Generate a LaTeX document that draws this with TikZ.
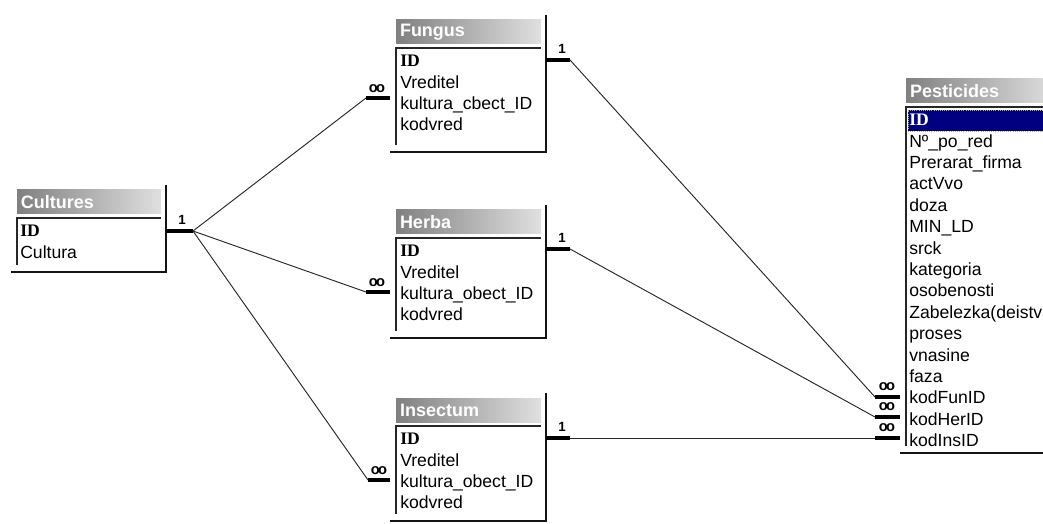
\documentclass[tikz,border=0pt]{standalone}
\usepackage{fontspec}
\setmainfont{Liberation Sans}
\newfontfamily\keyfont{Liberation Serif}
\usepackage{amsmath}
\usetikzlibrary{positioning, fit, calc}
\definecolor{cBarDark}{RGB}{128,128,128}
\definecolor{cBarLight}{RGB}{224,224,224}
\definecolor{cSel}{RGB}{0,0,128}
\definecolor{cEdge}{RGB}{20,20,20}
\tikzset{
	win/.style     ={rectangle, inner sep=0pt, fill=white},
	winedge/.style ={line width=1.5pt, draw=cEdge},
	titlebar/.style={rectangle, inner sep=0pt, left color=cBarDark, right color=cBarLight},
	wintitle/.style={anchor=west, inner sep=0pt, text=white, font=\bfseries\fontsize{13.5}{14}\selectfont},
	listedge/.style={line width=1.2pt, draw=black!85},
	fld/.style     ={anchor=west, inner sep=0pt, text height=10pt, text depth=3pt, font=\fontsize{13.2}{14}\selectfont},
	keyfld/.style  ={fld, font=\keyfont\bfseries\fontsize{13.2}{14}\selectfont},
	selrow/.style  ={rectangle, inner sep=0pt, fill=cSel, draw=yellow!70!black, densely dotted, line width=0.6pt},
	stub/.style    ={line width=2.6pt},
	link/.style    ={line width=0.7pt, draw=black!85},
	one/.style     ={inner sep=0pt, font=\bfseries\fontsize{10}{10}\selectfont},
	many/.style    ={inner sep=0pt, font=\bfseries\fontsize{11}{11}\selectfont},
}
\newcommand{\manysign}{o\kern-1.2pt o}

% table window: name, left, top, right, bottom, title
\newcommand{\tablewin}[6]{%
	\node[win, fit={(#2,#3) (#4,#5)}] (#1) {};
	\draw[winedge] (#1.north east) -- (#1.south east) -- (#1.south west);
	\node[titlebar, fit={(#2+6,#3+5) (#4-5,#3+29)}] (#1-bar) {};
	\node[wintitle] (#1-title) at ([xshift=3pt]#1-bar.west) {#6};
	\draw[listedge] (#2+6,#5-7) -- (#2+6,#3+33) -- (#4-5,#3+33);
}

\begin{document}
\begin{tikzpicture}[x=0.75pt, y=-0.75pt]
	\useasboundingbox (0,0) rectangle (1043,524);
	\clip (0,0) rectangle (1043,524);

	% tables
	\tablewin{cult}{11}{185}{166}{272}{Cultures}
	\node[keyfld] (cult-id) at (20,232) {ID};
	\node[fld] (cult-f1) at (20,253.4) {Cultura};

	\tablewin{fun}{390}{15}{546}{152}{Fungus}
	\node[keyfld] (fun-id) at (400,62) {ID};
	\foreach \f [count=\i] in {Vreditel, kultura\_cbect\_ID, kodvred}
		\node[fld] (fun-f\i) at (400,62+21.4*\i) {\f};

	\tablewin{herb}{390}{205}{546}{338}{Herba}
	\node[keyfld] (herb-id) at (400,252) {ID};
	\foreach \f [count=\i] in {Vreditel, kultura\_obect\_ID, kodvred}
		\node[fld] (herb-f\i) at (400,252+21.4*\i) {\f};

	\tablewin{ins}{390}{393}{546}{521}{Insectum}
	\node[keyfld] (ins-id) at (400,440) {ID};
	\foreach \f [count=\i] in {Vreditel, kultura\_obect\_ID, kodvred}
		\node[fld] (ins-f\i) at (400,440+21.4*\i) {\f};

	\tablewin{pest}{900}{74}{1060}{453}{Pesticides}
	\node[selrow, fit={(908,110) (1060,131)}] (pest-sel) {};
	\node[keyfld, text=white] (pest-id) at (909,121) {ID};
	\foreach \f [count=\i] in {Nº\_po\_red, Prerarat\_firma, actVvo, doza, MIN\_LD, srck,
			kategoria, osobenosti, {Zabelezka(deistv}, proses, vnasine, faza,
			kodFunID, kodHerID, kodInsID}
		\node[fld] (pest-f\i) at (909,121+21.4*\i) {\f};

	% relationship end points
	\coordinate (cult-1) at (193,231);
	\coordinate (fun-m) at (366,98);
	\coordinate (herb-m) at (366,292);
	\coordinate (ins-m) at (368,480);
	\coordinate (fun-1) at (570,60);
	\coordinate (herb-1) at (570,249);
	\coordinate (ins-1) at (570,438);
	\coordinate (pest-m1) at (875,397);
	\coordinate (pest-m2) at (875,417);
	\coordinate (pest-m3) at (875,438);

	% stubs
	\draw[stub] (cult.east |- cult-1) -- (cult-1);
	\foreach \t in {fun, herb, ins} {
		\draw[stub] (\t-m) -- (\t.west |- \t-m);
		\draw[stub] (\t.east |- \t-1) -- (\t-1);
	}
	\foreach \k in {1,2,3}
		\draw[stub] (pest-m\k) -- (pest.west |- pest-m\k);

	% lines
	\draw[link] (cult-1) -- (fun-m);
	\draw[link] (cult-1) -- (herb-m);
	\draw[link] (cult-1) -- (ins-m);
	\draw[link] (fun-1) -- (pest-m1);
	\draw[link] (herb-1) -- (pest-m2);
	\draw[link] (ins-1) -- (pest-m3);

	% cardinality marks
	\node[one] (cult-one) at ($(cult-1)+(-11,-11)$) {1};
	\foreach \t in {fun, herb, ins} {
		\node[one] (\t-one) at ($(\t-1)+(-8,-11)$) {1};
		\node[many] (\t-many) at ($(\t-m)+(11,-9)$) {\manysign};
	}
	\foreach \k in {1,2,3}
		\node[many] (pest-many\k) at ($(pest-m\k)+(12,-10)$) {\manysign};
\end{tikzpicture}
\end{document}
